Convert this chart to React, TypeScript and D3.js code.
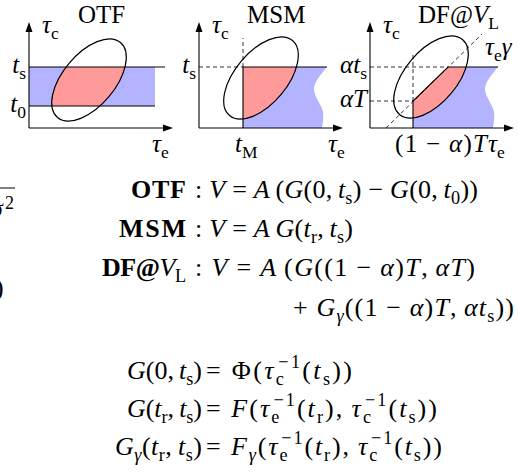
import * as d3 from 'd3';

const FONT = '"Liberation Serif", "Times New Roman", Times, serif';
const BLUE = '#b3b3ff';
const RED = '#ff9a9a';

// schematic axes, in axis units (1 unit = 1px), x along tau_e, y along tau_c
const AXIS_X = 144;
const AXIS_Y = 106;
const originsX = [29, 199, 370];
const originY = 128;

const ellipseCentres: [number, number][] = [[60, 48], [62, 50], [61, 51]];
const ellipseRadii = [49, 26];
const ellipseTilt = 50; // degrees

const levelTs = 61;
const levelT0 = 22;
const cutTM = 44;
const bandEnd = 126;
const tsLineEnd = 136;
const waveEdge: [number, number][] = [[128, 61], [115, 40], [124, 16], [123, 0]];
const gammaLine: [number, number][] = [[16, 0], [112, 94]];
const gammaKnee: [number, number] = [43, 27];
const gammaTop: [number, number] = [78, 61];

// text segments: [text, kind, dx]; kinds r roman, i italic, b bold, s sub, si italic sub, p sup
type Seg = [string, string, number?];
type Row = { lhs: Seg[]; rhs: Seg[]; lhsLen: number; rhsLen: number };

const eqTop: Row[] = [
  {
    lhs: [['OTF', 'b']],
    rhs: [[': ', 'r'], ['V', 'i'], [' = ', 'r'], ['A', 'i'], ['\u2009(', 'r'], ['G', 'i'], ['(0,\u2009', 'r'], ['t', 'i'], ['s', 's'],
      [') \u2212 ', 'r'], ['G', 'i'], ['(0,\u2009', 'r'], ['t', 'i'], ['0', 's'], ['))', 'r']],
    lhsLen: 55,
    rhsLen: 283,
  },
  {
    lhs: [['MSM', 'b']],
    rhs: [[': ', 'r'], ['V', 'i'], [' = ', 'r'], ['A', 'i'], ['\u2009', 'r'], ['G', 'i'], ['(', 'r'], ['t', 'i'], ['r', 's'], [',\u2009', 'r'],
      ['t', 'i'], ['s', 's'], [')', 'r']],
    lhsLen: 67,
    rhsLen: 158,
  },
  {
    lhs: [['DF@', 'b'], ['V', 'i'], ['L', 's']],
    rhs: [[': ', 'r'], ['V', 'i'], [' = ', 'r'], ['A', 'i'], ['\u2009(', 'r'], ['G', 'i'], ['((1 \u2212 ', 'r'], ['\u03b1', 'i'], [')', 'r'],
      ['T', 'i'], [',\u2009', 'r'], ['\u03b1T', 'i'], [')', 'r']],
    lhsLen: 84,
    rhsLen: 280,
  },
];
const eqTopCont: Seg[] = [['+ ', 'r'], ['G', 'i'], ['\u03b3', 'si'], ['((1 \u2212 ', 'r'], ['\u03b1', 'i'], [')', 'r'], ['T', 'i'],
  [',\u2009', 'r'], ['\u03b1t', 'i'], ['s', 's'], ['))', 'r']];
const eqTopContLen = 221;

const eqBottom: Row[] = [
  {
    lhs: [['G', 'i'], ['(0,\u2009', 'r'], ['t', 'i'], ['s', 's'], [')', 'r']],
    rhs: [['= \u03a6(', 'r'], ['\u03c4', 'i'], ['c', 's'], ['\u22121', 'p', -8], ['(', 'r'], ['t', 'i'], ['s', 's'], ['))', 'r']],
    lhsLen: 75,
    rhsLen: 146,
  },
  {
    lhs: [['G', 'i'], ['(', 'r'], ['t', 'i'], ['r', 's'], [',\u2009', 'r'], ['t', 'i'], ['s', 's'], [')', 'r']],
    rhs: [['= ', 'r'], ['F', 'i'], ['(', 'r'], ['\u03c4', 'i'], ['e', 's'], ['\u22121', 'p', -8], ['(', 'r'], ['t', 'i'], ['r', 's'],
      ['),\u2009', 'r'], ['\u03c4', 'i'], ['c', 's'], ['\u22121', 'p', -8], ['(', 'r'], ['t', 'i'], ['s', 's'], ['))', 'r']],
    lhsLen: 75,
    rhsLen: 231,
  },
  {
    lhs: [['G', 'i'], ['\u03b3', 'si'], ['(', 'r'], ['t', 'i'], ['r', 's'], [',\u2009', 'r'], ['t', 'i'], ['s', 's'], [')', 'r']],
    rhs: [['= ', 'r'], ['F', 'i'], ['\u03b3', 'si'], ['(', 'r'], ['\u03c4', 'i'], ['e', 's'], ['\u22121', 'p', -8], ['(', 'r'], ['t', 'i'],
      ['r', 's'], ['),\u2009', 'r'], ['\u03c4', 'i'], ['c', 's'], ['\u22121', 'p', -8], ['(', 'r'], ['t', 'i'], ['s', 's'], ['))', 'r']],
    lhsLen: 87,
    rhsLen: 236,
  },
];

const topBaselines = [198, 237, 276];
const contBaseline = 316;
const bottomBaselines = [379, 417, 455];

function segs(list: Seg[], size: number) {
  let shift = 0;
  return list.map(([t, k, dx], i) => {
    const sub = k === 's' || k === 'si';
    const sup = k === 'p';
    const target = sub ? size * 0.24 : sup ? -size * 0.42 : 0;
    const dy = target - shift;
    shift = target;
    return (
      <tspan
        key={i}
        dy={dy}
        dx={dx}
        fontSize={sub || sup ? size * 0.7 : undefined}
        fontStyle={k === 'i' || k === 'si' ? 'italic' : undefined}
        fontWeight={k === 'b' ? 'bold' : undefined}
      >
        {t}
      </tspan>
    );
  });
}

function Label({ x, y, list, size = 25, anchor = 'start', len }: {
  x: number; y: number; list: Seg[]; size?: number; anchor?: string; len?: number;
}) {
  return (
    <text
      x={x}
      y={y}
      fontSize={size}
      textAnchor={anchor}
      textLength={len}
      lengthAdjust={len ? 'spacing' : undefined}
      xmlSpace="preserve"
      style={{ whiteSpace: 'pre' }}
    >
      {segs(list, size)}
    </text>
  );
}

function Panel({ i }: { i: number }) {
  const x0 = originsX[i];
  const x = d3.scaleLinear().domain([0, AXIS_X]).range([x0, x0 + AXIS_X]);
  const y = d3.scaleLinear().domain([0, AXIS_Y]).range([originY, originY - AXIS_Y]);
  const line = d3.line<[number, number]>().x(d => x(d[0])).y(d => y(d[1]));
  const wave = d3.line<[number, number]>().x(d => x(d[0])).y(d => y(d[1])).curve(d3.curveCatmullRom);

  let region: string;
  if (i === 0) {
    region = line([[0, levelT0], [bandEnd, levelT0], [bandEnd, levelTs], [0, levelTs]]) + 'Z';
  } else {
    const left: [number, number][] = i === 1 ? [[cutTM, 0], [cutTM, levelTs]] : [[gammaKnee[0], 0], gammaKnee, gammaTop];
    region = line(left) + (wave(waveEdge) ?? '').replace(/^M/, 'L') + 'Z';
  }

  const [ecx, ecy] = ellipseCentres[i];
  const ell = {
    cx: x(ecx),
    cy: y(ecy),
    rx: ellipseRadii[0],
    ry: ellipseRadii[1],
    transform: `rotate(${-ellipseTilt},${x(ecx)},${y(ecy)})`,
  };

  const solid = (pts: [number, number][]) => <path d={line(pts) ?? ''} fill="none" stroke="#000" strokeWidth={1.1} />;
  const dashed = (pts: [number, number][]) => (
    <path d={line(pts) ?? ''} fill="none" stroke="#000" strokeWidth={0.8} strokeDasharray="4,3" />
  );

  return (
    <g>
      <defs>
        <clipPath id={`ell${i}`}>
          <ellipse {...ell} />
        </clipPath>
      </defs>
      <path d={region} fill={BLUE} />
      <path d={region} fill={RED} clipPath={`url(#ell${i})`} />

      {i === 0 && (
        <g>
          {solid([[0, levelTs], [tsLineEnd, levelTs]])}
          {solid([[0, levelT0], [bandEnd, levelT0]])}
        </g>
      )}
      {i === 1 && (
        <g>
          {solid([[cutTM, 0], [cutTM, levelTs], [waveEdge[0][0], levelTs]])}
          {dashed([[0, levelTs], [cutTM, levelTs]])}
          {dashed([[cutTM, levelTs], [cutTM, 90]])}
        </g>
      )}
      {i === 2 && (
        <g>
          {solid([[gammaKnee[0], 0], gammaKnee, gammaTop, [waveEdge[0][0], levelTs]])}
          {dashed([[0, levelTs], gammaTop])}
          {dashed([[0, gammaKnee[1]], gammaKnee])}
          {dashed([gammaKnee, [gammaKnee[0], 75]])}
          {dashed(gammaLine)}
        </g>
      )}

      <ellipse {...ell} fill="none" stroke="#000" strokeWidth={1.2} />

      {/* axes */}
      {solid([[0, 0], [AXIS_X - 7, 0]])}
      {solid([[0, 0], [0, AXIS_Y - 7]])}
      <path d={line([[AXIS_X, 0], [AXIS_X - 10, 3.5], [AXIS_X - 10, -3.5]]) + 'Z'} fill="#000" />
      <path d={line([[0, AXIS_Y], [-3.5, AXIS_Y - 10], [3.5, AXIS_Y - 10]]) + 'Z'} fill="#000" />

      <Label x={x0 + 13} y={33} list={[['\u03c4', 'i'], ['c', 's']]} />
    </g>
  );
}

export default function App() {
  return (
    <svg
      width={518}
      height={472}
      style={{ position: 'absolute', left: 0, top: 0, background: '#fff' }}
      fontFamily={FONT}
    >
      <rect width={518} height={472} fill="#fff" />

      {/* cut-off fragments at the left edge */}
      <line x1={0} x2={15} y1={188} y2={188} stroke="#000" strokeWidth={1} />
      <text x={5} y={209} fontSize={18}>2</text>
      <text x={-10} y={217} fontSize={26} fontStyle="italic">σ</text>
      <text x={-5} y={296} fontSize={26}>)</text>

      {[0, 1, 2].map(i => <Panel key={i} i={i} />)}

      {/* panel titles */}
      <Label x={78} y={23} list={[['OTF', 'r']]} />
      <Label x={247} y={23} list={[['MSM', 'r']]} />
      <Label x={418} y={23} list={[['DF@', 'r'], ['V', 'i'], ['L', 's']]} />

      {/* level labels */}
      <Label x={26} y={73} anchor="end" list={[['t', 'i'], ['s', 's']]} />
      <Label x={26} y={112} anchor="end" list={[['t', 'i'], ['0', 's']]} />
      <Label x={196} y={73} anchor="end" list={[['t', 'i'], ['s', 's']]} />
      <Label x={367} y={73} anchor="end" list={[['\u03b1t', 'i'], ['s', 's']]} />
      <Label x={367} y={107} anchor="end" list={[['\u03b1T', 'i']]} />
      <Label x={485} y={55} list={[['\u03c4', 'i'], ['e', 's'], ['\u03b3', 'i']]} />

      {/* axis labels */}
      <Label x={152} y={152} list={[['\u03c4', 'i'], ['e', 's']]} />
      <Label x={235} y={152} list={[['t', 'i'], ['M', 's']]} />
      <Label x={328} y={152} list={[['\u03c4', 'i'], ['e', 's']]} />
      <Label x={395} y={152} len={92} list={[['(1 \u2212 ', 'r'], ['\u03b1', 'i'], [')', 'r'], ['T', 'i']]} />
      <Label x={488} y={152} list={[['\u03c4', 'i'], ['e', 's']]} />

      {/* equations */}
      {eqTop.map((row, i) => (
        <g key={`t${i}`}>
          <Label x={186} y={topBaselines[i]} size={26} anchor="end" len={row.lhsLen} list={row.lhs} />
          <Label x={195} y={topBaselines[i]} size={26} len={row.rhsLen} list={row.rhs} />
        </g>
      ))}
      <Label x={293} y={contBaseline} size={26} len={eqTopContLen} list={eqTopCont} />
      {eqBottom.map((row, i) => (
        <g key={`b${i}`}>
          <Label x={202} y={bottomBaselines[i]} size={26} anchor="end" len={row.lhsLen} list={row.lhs} />
          <Label x={206} y={bottomBaselines[i]} size={26} len={row.rhsLen} list={row.rhs} />
        </g>
      ))}
    </svg>
  );
}
